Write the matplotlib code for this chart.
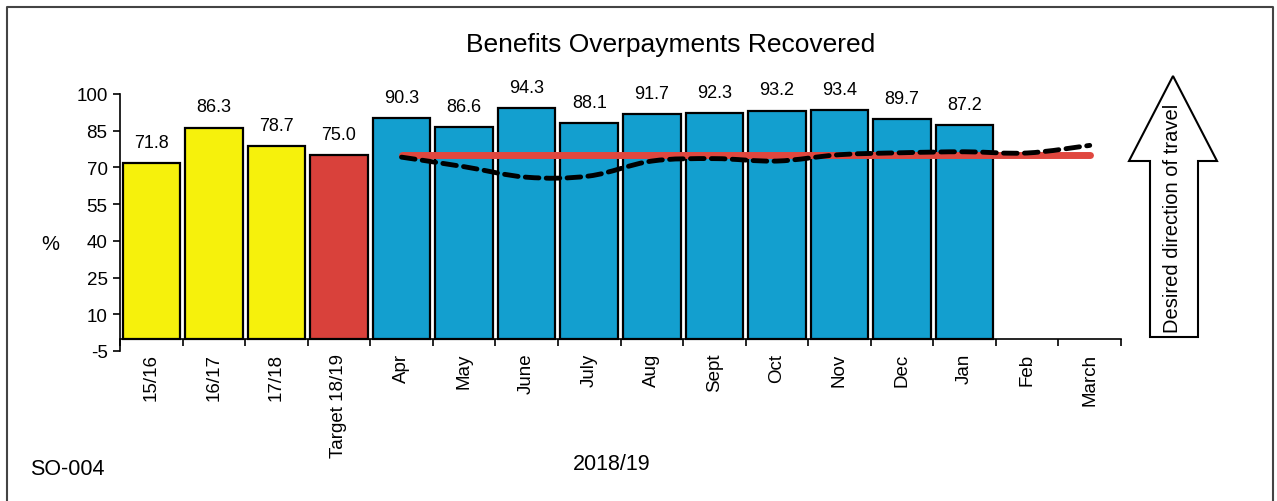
#!/usr/bin/env python
"""Benefits overpayments recovered - bar chart with target and trend line."""
import numpy as np
import matplotlib
matplotlib.use("Agg")
import matplotlib.pyplot as plt
from matplotlib.path import Path
from matplotlib.patches import PathPatch, Polygon

plt.rcParams["font.family"] = ["Liberation Sans", "DejaVu Sans"]

# ------
# Data
categories = ["15/16", "16/17", "17/18", "Target 18/19", "Apr", "May", "June",
              "July", "Aug", "Sept", "Oct", "Nov", "Dec", "Jan", "Feb", "March"]
values = [71.8, 86.3, 78.7, 75.0, 90.3, 86.6, 94.3, 88.1, 91.7, 92.3, 93.2,
          93.4, 89.7, 87.2, None, None]
bar_kind = ["year", "year", "year", "target"] + ["month"] * 12

months = categories[4:]
target = [75.0] * 12
trend = [74.2, 70.3, 66.0, 66.5, 72.6, 73.6, 72.6, 75.2, 76.0, 76.4, 75.9, 79.0]

yticks = [-5, 10, 25, 40, 55, 70, 85, 100]

COLORS = {"year": "#f6f10c", "target": "#d9413b", "month": "#139fcf"}
FS = 13.5

# ------
# Build figure
W, H = 1277, 502
fig = plt.figure(figsize=(W / 100, H / 100), dpi=100)
ax = fig.add_axes([120 / W, 1 - 352 / H, (1121 - 120) / W, (352 - 95) / H])

# spines first (set_position resets the ticks)
ax.spines["top"].set_visible(False)
ax.spines["right"].set_visible(False)
ax.spines["bottom"].set_position(("data", 0))
ax.spines["bottom"].set_linewidth(1.2)
ax.spines["left"].set_linewidth(1.2)

x = np.arange(len(categories))
for xi, v, k in zip(x, values, bar_kind):
    if v is None:
        continue
    ax.bar(xi, v, width=0.92, color=COLORS[k], edgecolor="black",
           linewidth=1.6, zorder=2)
    ax.text(xi, v + 5, f"{v:.1f}", ha="center", va="bottom", fontsize=13)

# target line
xm = x[4:]
ax.plot(xm, target, color="#e0473f", linewidth=5, solid_capstyle="round",
        zorder=3)

# smoothed trend line (cubic bezier through the monthly points)
pts = np.column_stack([xm, trend]).astype(float)
verts = [pts[0]]
codes = [Path.MOVETO]
n = len(pts)
for i in range(n - 1):
    p0 = pts[max(i - 1, 0)]
    p1 = pts[i]
    p2 = pts[i + 1]
    p3 = pts[min(i + 2, n - 1)]
    c1 = p1 + (p2 - p0) / 6.0
    c2 = p2 - (p3 - p1) / 6.0
    verts += [c1, c2, p2]
    codes += [Path.CURVE4] * 3
trend_patch = PathPatch(Path(verts, codes), facecolor="none", edgecolor="black",
                        linewidth=3.5, linestyle=(0, (2.8, 1.5)), zorder=4,
                        capstyle="round")
ax.add_patch(trend_patch)

# axes
ax.set_xlim(-0.5, len(categories) - 0.5)
ax.set_ylim(-5, 100)
ax.set_yticks(yticks)
ax.set_yticklabels([str(t) for t in yticks], fontsize=FS)
ax.set_xticks(x)
ax.set_xticklabels(categories, rotation=90, fontsize=FS, va="top",
                   ha="center")
ax.tick_params(axis="x", which="major", length=0, pad=10)
ax.set_xticks(np.arange(len(categories) + 1) - 0.5, minor=True)
ax.tick_params(axis="x", which="minor", length=5, width=1.2, direction="out")
ax.tick_params(axis="y", length=5, width=1.2, direction="out", pad=4)

# texts
fig.text(50 / W, 1 - 245 / H, "%", ha="center", va="center", fontsize=14.5)
fig.text(671 / W, 1 - 45 / H, "Benefits Overpayments Recovered", ha="center",
         va="center", fontsize=19)
fig.text(612 / W, 1 - 465 / H, "2018/19", ha="center", va="center",
         fontsize=15.5)
fig.text(30 / W, 1 - 470 / H, "SO-004", ha="left", va="center", fontsize=15.5)

# direction arrow
arrow_px = [(1150, 338), (1198, 338), (1198, 162), (1217, 162), (1173, 77),
            (1129, 162), (1150, 162)]
arrow = Polygon([(px / W, 1 - py / H) for px, py in arrow_px], closed=True,
                facecolor="white", edgecolor="black", linewidth=1.5,
                transform=fig.transFigure)
fig.add_artist(arrow)
fig.text(1172 / W, 1 - 218 / H, "Desired direction of travel", rotation=90,
         ha="center", va="center", fontsize=14.5)

# outer frame (left, top, right)
frame_x = [7 / W, 7 / W, 1273 / W, 1273 / W]
frame_y = [0, 1 - 8 / H, 1 - 8 / H, 0]
fig.add_artist(plt.Line2D(frame_x, frame_y, color="#444444", linewidth=1.5,
                          transform=fig.transFigure))

fig.savefig("out.png", dpi=100)
plt.close()
